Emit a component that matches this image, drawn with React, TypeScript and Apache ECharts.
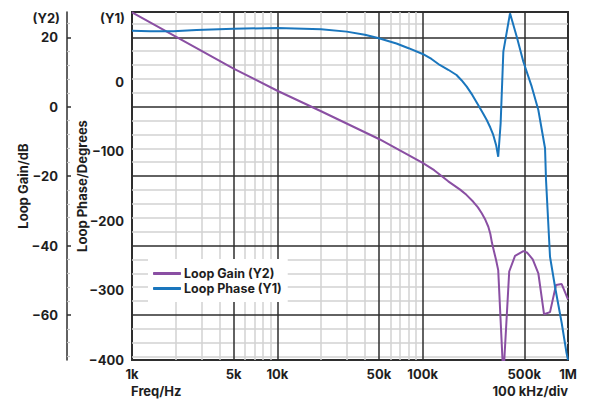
import React, { useEffect, useRef } from 'react';
import * as echarts from 'echarts';

// ---- data ----
const freqLabelTicks = [1000, 5000, 10000, 50000, 100000, 500000, 1000000];
const freqMinorGrid = [2000, 3000, 4000, 6000, 7000, 8000, 9000, 20000, 30000, 40000, 60000, 70000, 80000, 90000];
const freqMajorGrid = [5000, 10000, 50000, 100000, 500000];
const gainTicks = [-60, -40, -20, 0, 20];
const gainMinorTicks = [-72, -68, -64, -56, -52, -48, -44, -36, -32, -28, -24, -16, -12, -8, -4, 4, 8, 12, 16, 24];

const gainFreq = [1000, 5000, 10000, 20000, 50000, 100000, 120000, 150000, 181000, 200000, 223000, 240000, 255000, 270000, 283000, 292000, 300000, 310000, 320000, 331000, 359000, 394000, 432000, 493000, 525000, 572000, 625000, 684000, 752000, 827000, 905000, 1000000];
const gainDb = [27.2, 11.0, 4.6, -1.3, -9.3, -16.2, -18.3, -21.5, -23.9, -25.4, -27.4, -29.0, -30.7, -32.6, -34.6, -36.6, -39.3, -41.8, -44.2, -47.1, -78, -47.5, -43.0, -41.6, -42.1, -44.0, -48.0, -59.8, -59.2, -51.4, -51.1, -55.5];

const phaseFreq = [1000, 1330, 1925, 2780, 5000, 10000, 20000, 30000, 40000, 50000, 66000, 80000, 100000, 115000, 131000, 150000, 171000, 185000, 201000, 220000, 241000, 260000, 276000, 292000, 306000, 320000, 331000, 344000, 359000, 399000, 444000, 493000, 563000, 625000, 695000, 706000, 752000, 814000, 905000, 977000, 1000000];
const phaseDeg = [73.1, 72.3, 72.3, 74.1, 76.0, 77.0, 75.1, 71.8, 67.4, 62.2, 54.7, 48.0, 39.7, 32.5, 23.9, 17.0, 9.5, 2.0, -7.3, -19.5, -33.6, -45.5, -55.2, -66.0, -76.7, -91.0, -107.9, -59.9, 43.0, 98.1, 64.5, 28.6, -7.3, -40.8, -95.8, -141.4, -251.6, -294.7, -346.8, -389.9, -400];

const FONT = "Inter, 'Noto Sans', sans-serif";
const TXT = '#1e1e1e';
const DARK = '#2e2e2e';
const LIGHT = '#d2d2d2';
const PURPLE = '#8a4fa3';
const BLUE = '#1a76bd';

const minus = (v: number) => String(v).replace('-', '\u2212');
const fmtFreq = (v: number) => (v >= 1e6 ? v / 1e6 + 'M' : v / 1000 + 'k');

export default function App() {
  const ref = useRef<HTMLDivElement>(null);
  useEffect(() => {
    if (!ref.current) return;
    const chart = echarts.init(ref.current, undefined, { renderer: 'svg' });
    const labelStyle = { fontFamily: FONT, fontWeight: 'bold' as const, fontSize: 13, color: TXT };
    const gridLines: any[] = [
      ...gainMinorTicks.map((v) => ({ yAxis: v, lineStyle: { color: LIGHT, width: 1.5, type: 'solid' } })),
      ...freqMinorGrid.map((v) => ({ xAxis: v, lineStyle: { color: LIGHT, width: 1.5, type: 'solid' } })),
      ...gainTicks.map((v) => ({ yAxis: v, lineStyle: { color: DARK, width: 1.5, type: 'solid' } })),
      ...freqMajorGrid.map((v) => ({ xAxis: v, lineStyle: { color: DARK, width: 1.5, type: 'solid' } })),
    ];
    chart.setOption({
      animation: false,
      grid: { left: 132, right: 33, top: 12, bottom: 44, show: true, borderColor: DARK, borderWidth: 2, containLabel: false },
      legend: {
        data: [
          { name: 'Loop Gain (Y2)', icon: 'roundRect', itemStyle: { color: PURPLE } },
          { name: 'Loop Phase (Y1)', icon: 'roundRect', itemStyle: { color: BLUE } },
        ],
        orient: 'vertical',
        left: 148,
        top: 259,
        padding: [7, 6, 6, 5],
        backgroundColor: '#ffffff',
        itemWidth: 28,
        itemHeight: 3,
        itemGap: 0,
        textStyle: { fontFamily: FONT, fontWeight: 'bold', fontSize: 12.5, color: TXT, lineHeight: 15, padding: [0, 0, 0, -2] },
      },
      xAxis: {
        type: 'log',
        logBase: 10,
        min: 1000,
        max: 1000000,
        axisLine: { show: false },
        axisTick: { show: false },
        splitLine: { show: false },
        minorSplitLine: { show: false },
        axisLabel: { ...labelStyle, margin: 7, customValues: freqLabelTicks, formatter: fmtFreq },
      },
      yAxis: [
        {
          type: 'value',
          min: -400,
          max: 100,
          interval: 100,
          position: 'left',
          axisLine: { show: false },
          axisTick: { show: false },
          splitLine: { show: false },
          axisLabel: { ...labelStyle, margin: 8, showMaxLabel: false, formatter: minus },
          name: 'Loop Phase/Degrees',
          nameLocation: 'middle',
          nameGap: 44,
          nameMoveOverlap: false,
          nameTextStyle: { ...labelStyle },
        },
        {
          type: 'value',
          min: -73,
          max: 27.3,
          position: 'left',
          offset: 65,
          axisLine: { show: true, lineStyle: { color: DARK, width: 1.5 } },
          axisTick: { show: true, inside: true, length: 4, customValues: gainTicks, lineStyle: { color: DARK, width: 1.5 } },
          splitLine: { show: false },
          axisLabel: { ...labelStyle, margin: 9, customValues: gainTicks, formatter: minus },
          name: 'Loop Gain/dB',
          nameLocation: 'middle',
          nameGap: 38,
          nameMoveOverlap: false,
          nameTextStyle: { ...labelStyle },
        },
        {
          type: 'value',
          min: -73,
          max: 27.3,
          position: 'left',
          offset: 65,
          axisLine: { show: false },
          axisTick: { show: true, inside: true, length: 3, customValues: gainMinorTicks, lineStyle: { color: '#c4c4c4', width: 1.2 } },
          splitLine: { show: false },
          axisLabel: { show: false },
        },
      ],
      graphic: [
        { type: 'text', x: 60, y: 18, style: { text: '(Y2)', align: 'right', verticalAlign: 'middle', font: `bold 13px ${FONT}`, fill: TXT } },
        { type: 'text', x: 125, y: 18, style: { text: '(Y1)', align: 'right', verticalAlign: 'middle', font: `bold 13px ${FONT}`, fill: TXT } },
        { type: 'text', x: 131, y: 391, style: { text: 'Freq/Hz', align: 'left', verticalAlign: 'middle', font: `bold 13px ${FONT}`, fill: TXT } },
        { type: 'text', x: 568, y: 391, style: { text: '100 kHz/div', align: 'right', verticalAlign: 'middle', font: `bold 13px ${FONT}`, fill: TXT } },
      ],
      series: [
        {
          type: 'line',
          name: 'grid',
          xAxisIndex: 0,
          yAxisIndex: 1,
          data: [],
          silent: true,
          markLine: {
            silent: true,
            z: 1,
            symbol: ['none', 'none'],
            label: { show: false },
            emphasis: { disabled: true },
            animation: false,
            data: gridLines,
          },
        },
        {
          type: 'line',
          name: 'Loop Gain (Y2)',
          xAxisIndex: 0,
          yAxisIndex: 1,
          data: gainFreq.map((f, i) => [f, gainDb[i]]),
          showSymbol: false,
          symbol: 'none',
          color: PURPLE,
          lineStyle: { color: PURPLE, width: 2 },
          z: 5,
        },
        {
          type: 'line',
          name: 'Loop Phase (Y1)',
          xAxisIndex: 0,
          yAxisIndex: 0,
          data: phaseFreq.map((f, i) => [f, phaseDeg[i]]),
          showSymbol: false,
          symbol: 'none',
          color: BLUE,
          lineStyle: { color: BLUE, width: 2 },
          z: 5,
        },
      ],
    });
    return () => chart.dispose();
  }, []);
  return <div ref={ref} style={{ position: 'fixed', left: 0, top: 0, width: 601, height: 404, background: '#fff' }} />;
}
